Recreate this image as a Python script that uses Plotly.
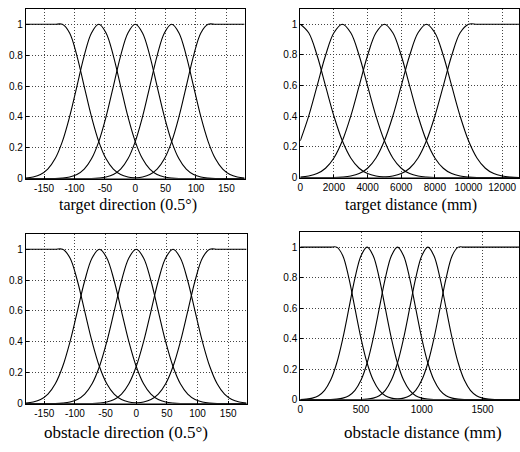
import plotly.graph_objects as go

# ---------------- data ----------------
# direction panels (target & obstacle have the same membership functions)
dir_x = [-180, -168, -156, -144, -132, -120, -108, -96, -84, -72, -60, -48, -36, -24, -12,
         0, 12, 24, 36, 48, 60, 72, 84, 96, 108, 120, 132, 144, 156, 168, 180]
dir_left = [1, 1, 1, 1, 1, 1, .944, .796, .598, .401, .240, .128, .061, .026, .010, .003] + [0] * 15
dir_m60 = [.003, .010, .026, .061, .128, .240, .401, .598, .796, .944, 1, .944, .796, .598, .401,
           .240, .128, .061, .026, .010, .003] + [0] * 10
dir_zero = [0] * 5 + [.003, .010, .026, .061, .128, .240, .401, .598, .796, .944, 1, .944, .796, .598,
                      .401, .240, .128, .061, .026, .010, .003] + [0] * 5
dir_p60 = [0] * 10 + [.003, .010, .026, .061, .128, .240, .401, .598, .796, .944, 1, .944, .796, .598,
                      .401, .240, .128, .061, .026, .010, .003]
dir_right = [0] * 15 + [.003, .010, .026, .061, .128, .240, .401, .598, .796, .944, 1, 1, 1, 1, 1, 1]
dir_curves = [dir_left, dir_m60, dir_zero, dir_p60, dir_right]
dir_ticks = [-150, -100, -50, 0, 50, 100, 150]
dir_tick_labels = ["-150", "-100", "-50", "0", "50", "100", "150"]

# target distance panel
td_x = [0, 500, 1000, 1500, 2000, 2500, 3000, 3500, 4000, 4500, 5000, 5500, 6000, 6500, 7000,
        7500, 8000, 8500, 9000, 9500, 10000, 10500, 11000, 11500, 12000, 12500, 13000]
td_0 = [1, .944, .796, .598, .401, .240, .128, .061, .026, .010, .003] + [0] * 16
td_2500 = [.240, .401, .598, .796, .944, 1, .944, .796, .598, .401, .240, .128, .061, .026, .010,
           .003] + [0] * 11
td_5000 = [.003, .010, .026, .061, .128, .240, .401, .598, .796, .944, 1, .944, .796, .598, .401,
           .240, .128, .061, .026, .010, .003] + [0] * 6
td_7500 = [0] * 5 + [.003, .010, .026, .061, .128, .240, .401, .598, .796, .944, 1, .944, .796, .598,
                     .401, .240, .128, .061, .026, .010, .003, 0]
td_right = [0] * 10 + [.003, .010, .026, .061, .128, .240, .401, .598, .796, .944] + [1] * 7
td_curves = [td_0, td_2500, td_5000, td_7500, td_right]
td_ticks = [0, 2000, 4000, 6000, 8000, 10000, 12000]
td_tick_labels = ["0", "2000", "4000", "6000", "8000", "10000", "12000"]

# obstacle distance panel
od_x = [0, 50, 100, 150, 200, 250, 300, 350, 400, 450, 500, 550, 600, 650, 700, 750, 800, 850,
        900, 950, 1000, 1050, 1100, 1150, 1200, 1250, 1300, 1350, 1400, 1450, 1500, 1550, 1600,
        1650, 1700, 1750, 1800]
od_left = [1] * 7 + [.944, .796, .598, .401, .240, .128, .061, .026, .010, .003] + [0] * 20
od_550 = [0, .003, .010, .026, .061, .128, .240, .401, .598, .796, .944, 1, .944, .796, .598, .401,
          .240, .128, .061, .026, .010, .003] + [0] * 15
od_800 = [0] * 6 + [.003, .010, .026, .061, .128, .240, .401, .598, .796, .944, 1, .944, .796, .598,
                    .401, .240, .128, .061, .026, .010, .003] + [0] * 10
od_1050 = [0] * 11 + [.003, .010, .026, .061, .128, .240, .401, .598, .796, .944, 1, .944, .796, .598,
                      .401, .240, .128, .061, .026, .010, .003] + [0] * 5
od_right = [0] * 16 + [.003, .010, .026, .061, .128, .240, .401, .598, .796, .944] + [1] * 11
od_curves = [od_left, od_550, od_800, od_1050, od_right]
od_ticks = [0, 500, 1000, 1500]
od_tick_labels = ["0", "500", "1000", "1500"]

y_ticks = [0, 0.2, 0.4, 0.6, 0.8, 1]
y_tick_labels = ["0", "0.2", "0.4", "0.6", "0.8", "1"]

titles = ["target direction (0.5°)", "target distance (mm)",
          "obstacle direction (0.5°)", "obstacle distance (mm)"]

# ---------------- figure ----------------
W, H = 520, 452
panels = [
    # (x, curves, ticks, labels, x-range, px x0, px x1, px top, px bottom, title x px, title y px, title size)
    (dir_x, dir_curves, dir_ticks, dir_tick_labels, [-180, 180], 23, 243, 9, 181, 126, 208, 16),
    (td_x, td_curves, td_ticks, td_tick_labels, [0, 13000], 299, 519, 9, 180, 410, 208, 16),
    (dir_x, dir_curves, dir_ticks, dir_tick_labels, [-180, 180], 23, 245, 237, 409, 124, 438, 17),
    (od_x, od_curves, od_ticks, od_tick_labels, [0, 1800], 299, 519, 235, 405, 422, 438, 17),
]

fig = go.Figure()
tick_font = dict(family="Liberation Sans Narrow, Liberation Sans, Arial", size=10, color="black")

for i, (xs, curves, xt, xl, xr, x0, x1, y0, y1, tx, ty, ts) in enumerate(panels):
    n = "" if i == 0 else str(i + 1)
    for c in curves:
        fig.add_trace(go.Scatter(x=xs, y=c, mode="lines", line=dict(color="black", width=1.1, shape="spline"),
                                 xaxis="x" + n, yaxis="y" + n, showlegend=False, hoverinfo="skip"))
    common = dict(showline=True, linecolor="black", linewidth=1, mirror=True, ticks="inside", ticklen=3,
                  tickcolor="black", showgrid=True, gridcolor="#444444", griddash="1px,2px", gridwidth=1,
                  zeroline=False, tickfont=tick_font)
    fig.layout["xaxis" + n] = dict(domain=[x0 / W, x1 / W], range=xr, tickvals=xt, ticktext=xl,
                                   anchor="y" + n, **common)
    fig.layout["yaxis" + n] = dict(domain=[1 - y1 / H, 1 - y0 / H], range=[0, 1.1], tickvals=y_ticks,
                                   ticktext=y_tick_labels, anchor="x" + n, **common)
    fig.add_annotation(text=titles[i], x=tx / W, y=1 - ty / H, xref="paper", yref="paper",
                       showarrow=False, xanchor="center", yanchor="middle",
                       font=dict(family="Liberation Serif, Times New Roman", size=ts, color="black"))

fig.update_layout(width=W, height=H, margin=dict(l=0, r=0, t=0, b=0),
                  paper_bgcolor="white", plot_bgcolor="white")

fig.write_html("out.html", config={"displayModeBar": False},
               post_script="document.body.style.margin='0';document.body.style.overflow='hidden';")
